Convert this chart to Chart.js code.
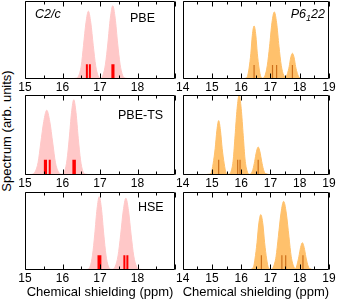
<!DOCTYPE html>
<html>
<head>
<meta charset="utf-8">
<script src="https://cdn.jsdelivr.net/npm/chart.js@4"></script>
<style>
  body { margin: 0; background: #fff; }
  #wrap { position: relative; width: 338px; height: 299px; overflow: hidden; background: #fff;
          font-family: "Liberation Sans", Arial, sans-serif; }
  #wrap canvas { position: absolute; }
  #ytitle { position: absolute; left: 6px; top: 131px; transform: translate(-50%, -50%) rotate(-90deg);
            font-size: 13px; white-space: nowrap; color: #000; }
</style>
</head>
<body>
<div id="wrap">
  <div id="ytitle">Spectrum (arb. units)</div>
</div>
<script>
// tick labels shown on each column
const leftTicks = [15, 16, 17, 18];
const rightTicks = [14, 15, 16, 17, 18, 19];

// C2/c, PBE
const c2cPbeX = [16.0, 16.36, 16.43, 16.50, 16.56, 16.625, 16.69, 16.755, 16.82, 16.885, 16.95, 17.02,
  17.08, 17.145, 17.21, 17.275, 17.34, 17.405, 17.47, 17.535, 17.60, 17.68, 18.0];
const c2cPbeY = [0, 0.01, 0.04, 0.17, 0.43, 0.72, 0.87, 0.72, 0.43, 0.17, 0.04, 0.01,
  0.05, 0.19, 0.46, 0.78, 0.94, 0.78, 0.46, 0.19, 0.05, 0.01, 0];
const c2cPbeSticks = [16.65, 16.73, 17.33, 17.36];
const c2cPbeStickH = [0.19, 0.19, 0.19, 0.19];

// C2/c, PBE-TS
const c2cTsX = [15.0, 15.20, 15.27, 15.35, 15.42, 15.50, 15.58, 15.66, 15.74, 15.81, 15.89, 15.97,
  16.06, 16.12, 16.18, 16.24, 16.30, 16.36, 16.42, 16.48, 16.54, 16.62, 17.0];
const c2cTsY = [0, 0.01, 0.04, 0.16, 0.40, 0.67, 0.81, 0.67, 0.40, 0.16, 0.04, 0.01,
  0.05, 0.19, 0.46, 0.78, 0.94, 0.78, 0.46, 0.19, 0.05, 0.01, 0];
const c2cTsSticks = [15.53, 15.56, 15.66, 16.29, 16.33];
const c2cTsStickH = [0.19, 0.19, 0.19, 0.19, 0.19];

// C2/c, HSE
const c2cHseX = [16.5, 16.68, 16.74, 16.80, 16.86, 16.92, 16.98, 17.04, 17.10, 17.16, 17.22, 17.30,
  17.34, 17.41, 17.48, 17.55, 17.62, 17.69, 17.76, 17.83, 17.90, 17.97, 18.05, 18.46];
const c2cHseY = [0, 0.01, 0.05, 0.19, 0.46, 0.78, 0.94, 0.78, 0.46, 0.19, 0.05, 0.01,
  0.01, 0.05, 0.18, 0.45, 0.76, 0.92, 0.76, 0.45, 0.18, 0.05, 0.01, 0];
const c2cHseSticks = [16.96, 17.01, 17.65, 17.73];
const c2cHseStickH = [0.19, 0.19, 0.19, 0.19];

// P6122, PBE
const p6PbeX = [15.9, 16.15, 16.21, 16.27, 16.33, 16.38, 16.44, 16.50, 16.55, 16.61, 16.67, 16.74,
  16.81, 16.89, 16.97, 17.05, 17.13, 17.21, 17.29, 17.37, 17.45, 17.52, 17.58, 17.64, 17.69,
  17.75, 17.81, 17.86, 17.92, 17.98, 18.1];
const p6PbeY = [0, 0.01, 0.03, 0.14, 0.33, 0.56, 0.68, 0.56, 0.33, 0.14, 0.03, 0.01,
  0.04, 0.17, 0.42, 0.72, 0.86, 0.72, 0.42, 0.17, 0.05, 0.03, 0.07, 0.16, 0.27,
  0.33, 0.27, 0.16, 0.07, 0.02, 0];
const p6PbeSticks = [16.44, 17.07, 17.21, 17.75];
const p6PbeStickH = [0.18, 0.18, 0.18, 0.18];

// P6122, PBE-TS
const p6TsX = [14.5, 14.92, 14.98, 15.04, 15.11, 15.17, 15.23, 15.29, 15.35, 15.42, 15.48, 15.56,
  15.66, 15.73, 15.79, 15.86, 15.93, 16.00, 16.07, 16.13, 16.20, 16.28, 16.34, 16.40, 16.46,
  16.52, 16.58, 16.64, 16.70, 16.76, 16.82, 17.2];
const p6TsY = [0, 0.01, 0.03, 0.14, 0.33, 0.56, 0.68, 0.56, 0.33, 0.14, 0.03, 0.01,
  0.05, 0.2, 0.49, 0.83, 1.0, 0.83, 0.49, 0.2, 0.05, 0.01, 0.02, 0.07, 0.17,
  0.29, 0.35, 0.29, 0.17, 0.07, 0.02, 0];
const p6TsSticks = [15.23, 15.88, 15.96, 16.58];
const p6TsStickH = [0.19, 0.19, 0.19, 0.19];

// P6122, HSE
const p6HseX = [16.2, 16.41, 16.47, 16.54, 16.60, 16.67, 16.74, 16.80, 16.87, 16.93, 17.02,
  17.10, 17.19, 17.27, 17.36, 17.45, 17.54, 17.63, 17.71, 17.80, 17.86, 17.91, 17.97,
  18.03, 18.09, 18.15, 18.21, 18.27, 18.33, 18.6];
const p6HseY = [0, 0.03, 0.14, 0.35, 0.59, 0.71, 0.59, 0.35, 0.14, 0.03, 0.01,
  0.04, 0.17, 0.43, 0.73, 0.88, 0.73, 0.43, 0.17, 0.04, 0.02, 0.07, 0.17,
  0.29, 0.35, 0.29, 0.17, 0.07, 0.02, 0];
const p6HseSticks = [16.69, 17.39, 17.52, 18.11];
const p6HseStickH = [0.19, 0.19, 0.19, 0.19];

const FONT = '"Liberation Sans", Arial, sans-serif';
const COLS = {
  left: { left: 0, w: 180, padL: 25, padR: 5, min: 15, max: 19, ticks: leftTicks,
          fill: "rgb(255, 200, 200)", stick: "#ff0000", stickW: 2 },
  right: { left: 175, w: 163, padL: 6, padR: 9, min: 14, max: 19, ticks: rightTicks,
           fill: "rgb(255, 193, 108)", stick: "rgb(205, 112, 28)", stickW: 1.2 },
};
const ROWS = [
  { top: 0, h: 96, pad: 1, axisH: 17 },
  { top: 90, h: 102, pad: 5, axisH: 17 },
  { top: 187, h: 112, pad: 5, axisH: 29, title: true },
];

function zip(xs, ys) {
  return xs.map((x, i) => ({ x, y: ys[i] }));
}

function stickSegments(xs, hs) {
  const pts = [];
  xs.forEach((x, i) => pts.push({ x, y: 0 }, { x, y: hs[i] }, { x, y: null }));
  return pts;
}

// frame with inward ticks on top and bottom, plus the panel labels
const framePlugin = {
  id: "frame",
  afterDatasetsDraw(chart, _args, opts) {
    const { ctx, chartArea: a, scales: { x } } = chart;
    const l = Math.round(a.left) + 0.5, r = Math.round(a.right) - 0.5;
    const t = Math.round(a.top) + 0.5, b = Math.round(a.bottom) - 0.5;
    ctx.save();
    ctx.strokeStyle = "#000";
    ctx.lineWidth = 1;
    ctx.beginPath();
    ctx.rect(l, t, r - l, b - t);
    for (let v = Math.ceil(x.min * 2) / 2; v <= x.max; v += 0.5) {
      const px = Math.round(x.getPixelForValue(v)) + 0.5;
      const len = Number.isInteger(v) ? 5 : 3;
      ctx.moveTo(px, b); ctx.lineTo(px, b - len);
      ctx.moveTo(px, t); ctx.lineTo(px, t + len);
    }
    ctx.stroke();

    ctx.fillStyle = "#000";
    ctx.textBaseline = "middle";
    (opts.labels || []).forEach((lab) => {
      let cx = a.left + lab.dx;
      const cy = a.top + lab.dy;
      lab.parts.forEach((p) => {
        ctx.font = (lab.italic ? "italic " : "") + (p.sub ? "9px " : "12.5px ") + FONT;
        ctx.fillText(p.text, cx, cy + (p.sub ? 3 : 0));
        cx += ctx.measureText(p.text).width;
      });
    });
    ctx.restore();
  },
};

function makePanel(rowIdx, colKey, xs, ys, sx, sh, labels) {
  const row = ROWS[rowIdx];
  const col = COLS[colKey];
  const canvas = document.createElement("canvas");
  canvas.width = col.w;
  canvas.height = row.h;
  canvas.style.left = col.left + "px";
  canvas.style.top = row.top + "px";
  document.getElementById("wrap").appendChild(canvas);

  new Chart(canvas.getContext("2d"), {
    type: "line",
    data: {
      datasets: [
        {
          data: stickSegments(sx, sh),
          borderColor: col.stick,
          borderWidth: col.stickW,
          borderCapStyle: "butt",
          pointRadius: 0,
          tension: 0,
          spanGaps: false,
          fill: false,
          order: 0,
        },
        {
          data: zip(xs, ys),
          borderColor: col.fill,
          backgroundColor: col.fill,
          borderWidth: 1,
          pointRadius: 0,
          cubicInterpolationMode: "monotone",
          fill: "origin",
          order: 1,
        },
      ],
    },
    options: {
      animation: false,
      responsive: false,
      events: [],
      layout: { padding: { left: col.padL, right: col.padR, top: row.pad, bottom: 0 } },
      plugins: {
        legend: { display: false },
        tooltip: { enabled: false },
        frame: { labels },
      },
      scales: {
        x: {
          type: "linear",
          min: col.min,
          max: col.max,
          afterFit: (scale) => { scale.height = row.axisH; },
          grid: { display: false, drawTicks: false },
          border: { display: false },
          ticks: {
            stepSize: 1,
            padding: 1,
            maxRotation: 0,
            autoSkip: false,
            color: "#000",
            font: { family: FONT, size: 12 },
            callback: (v) => (col.ticks.includes(v) ? String(v) : ""),
          },
          title: {
            display: !!row.title,
            text: "Chemical shielding (ppm)",
            color: "#000",
            font: { family: FONT, size: 13, lineHeight: 1 },
            padding: 0,
          },
        },
        y: { display: false, min: 0, max: 1 },
      },
    },
    plugins: [framePlugin],
  });
}

makePanel(0, "left", c2cPbeX, c2cPbeY, c2cPbeSticks, c2cPbeStickH, [
  { dx: 10, dy: 14, italic: true, parts: [{ text: "C2/c" }] },
  { dx: 105, dy: 18, parts: [{ text: "PBE" }] },
]);
makePanel(1, "left", c2cTsX, c2cTsY, c2cTsSticks, c2cTsStickH, [
  { dx: 93, dy: 21, parts: [{ text: "PBE-TS" }] },
]);
makePanel(2, "left", c2cHseX, c2cHseY, c2cHseSticks, c2cHseStickH, [
  { dx: 113, dy: 16, parts: [{ text: "HSE" }] },
]);
makePanel(0, "right", p6PbeX, p6PbeY, p6PbeSticks, p6PbeStickH, [
  { dx: 108, dy: 14, italic: true, parts: [{ text: "P6" }, { text: "1", sub: true }, { text: "22" }] },
]);
makePanel(1, "right", p6TsX, p6TsY, p6TsSticks, p6TsStickH, []);
makePanel(2, "right", p6HseX, p6HseY, p6HseSticks, p6HseStickH, []);
</script>
</body>
</html>
